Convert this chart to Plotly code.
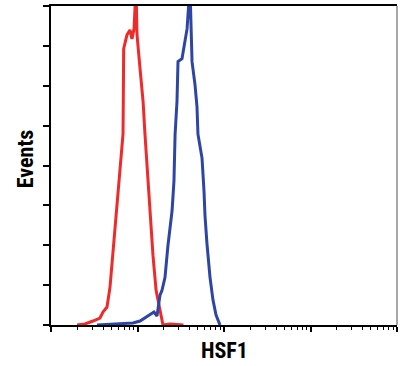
import plotly.graph_objects as go

# Isotype control (red) histogram
red_x = [2.0, 2.47, 3.06, 3.68, 3.99, 4.44, 4.81, 5.21, 5.64, 5.95, 6.11, 6.45, 6.80, 6.85,
         6.92, 7.56, 8.19, 8.63, 9.12, 9.61, 9.87, 10.7, 11.6, 12.2, 12.9, 14.0, 15.1, 16.4,
         17.7, 18.7, 19.7, 23.8, 31.0, 34.0]
red_y = [0, 0.5, 2, 3.5, 6.5, 9, 19, 37.4, 55.8, 64.8, 72.3, 82.2, 95.7, 112.1,
         138.6, 145.5, 148, 143.5, 148.5, 170, 145.5, 128.6, 112.1, 95.7, 78.7, 57.3, 34.9, 17.4,
         10, 5, 0, 0.5, 0, 0]

# HSF1 stained (blue) histogram
blue_x = [3.40, 4.81, 7.17, 8.87, 10.7, 12.2, 14.0, 15.5, 16.8, 18.2, 19.2, 20.8, 22.5, 25.1,
          26.4, 27.2, 28.6, 29.4, 32.7, 35.4, 37.4, 40.4, 41.5, 42.7, 46.2, 48.7, 50.0, 55.7,
          58.7, 60.3, 63.5, 68.9, 74.6, 80.9, 89.9]
blue_y = [0, 0.3, 0.5, 1, 2, 3.5, 5.5, 6.5, 4.5, 15, 17.4, 23.9, 39.9, 57.3,
          72.3, 95.7, 112.1, 132.1, 133.6, 142, 148.5, 170, 145.5, 132.1, 120.6, 109.6, 95.7, 83.7,
          67.3, 54.8, 40.9, 23.9, 12.5, 5, 0]

y_ticks = [0, 20, 40, 60, 80, 100, 120, 140, 160]

fig = go.Figure()
fig.add_trace(go.Scatter(x=red_x, y=red_y, mode="lines",
                         line=dict(color="#ef2a2a", width=3), showlegend=False))
fig.add_trace(go.Scatter(x=blue_x, y=blue_y, mode="lines",
                         line=dict(color="#2d46a6", width=3), showlegend=False))

font_family = "Liberation Sans Narrow, Roboto Condensed, Liberation Sans, Arial"

fig.update_layout(
    width=403, height=366,
    margin=dict(l=51, r=6, t=4, b=41),
    paper_bgcolor="white", plot_bgcolor="white",
    xaxis=dict(type="log", range=[0, 4], showgrid=False, zeroline=False,
               showline=True, linecolor="black", linewidth=2, mirror=True,
               ticks="outside", ticklen=5, tickwidth=1.5, tickcolor="black",
               dtick=1, showticklabels=False,
               minor=dict(ticks="outside", ticklen=3, tickwidth=1, tickcolor="black",
                          dtick="D1", showgrid=False)),
    yaxis=dict(range=[0, 160], showgrid=False, zeroline=False,
               showline=True, linecolor="black", linewidth=2,
               ticks="outside", ticklen=6, tickwidth=1.5, tickcolor="black",
               tickvals=y_ticks, showticklabels=False),
    shapes=[dict(type="line", xref="paper", yref="paper", x0=1, x1=1, y0=0, y1=1,
                 line=dict(color="#888888", width=1.5))],
    annotations=[
        dict(text="<b>Events</b>", xref="paper", yref="paper", x=-0.075, y=0.52,
             xanchor="center", yanchor="middle", textangle=-90, showarrow=False,
             font=dict(family=font_family, size=22, color="black")),
        dict(text="<b>HSF1</b>", xref="paper", yref="paper", x=0.5, y=-0.035,
             xanchor="center", yanchor="top", showarrow=False,
             font=dict(family=font_family, size=22, color="black")),
    ],
)

fig.write_html("out.html", config={"displayModeBar": False},
               post_script="document.body.style.margin='0px';")
